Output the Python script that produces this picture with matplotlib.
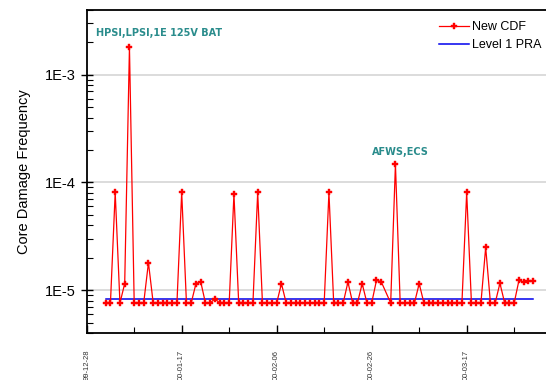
import numpy as np
import pandas as pd
import matplotlib
matplotlib.use("Agg")
import matplotlib.pyplot as plt
import matplotlib.dates as mdates
from matplotlib.ticker import LogLocator, FixedLocator, FixedFormatter, NullFormatter

plt.rcParams['font.family'] = ['Liberation Sans', 'DejaVu Sans']

# daily CDF estimates, 2000-01-01 .. 2000-03-31 (no entry for Feb 29)
cdf_dates = pd.date_range("2000-01-01", "2000-03-31").drop(pd.Timestamp("2000-02-29"))
new_cdf = [
    7.6e-6, 7.6e-6, 8.1e-5, 7.6e-6, 1.15e-5, 1.8e-3, 7.6e-6, 7.6e-6, 7.6e-6, 1.8e-5,   # Jan 1-10
    7.6e-6, 7.6e-6, 7.6e-6, 7.6e-6, 7.6e-6, 7.6e-6, 8.1e-5, 7.6e-6, 7.6e-6, 1.15e-5,  # Jan 11-20
    1.2e-5, 7.6e-6, 7.6e-6, 8.3e-6, 7.6e-6, 7.6e-6, 7.6e-6, 7.8e-5, 7.6e-6, 7.6e-6,   # Jan 21-30
    7.6e-6, 7.6e-6, 8.1e-5, 7.6e-6, 7.6e-6, 7.6e-6, 7.6e-6, 1.15e-5, 7.6e-6, 7.6e-6,  # Jan 31-Feb 9
    7.6e-6, 7.6e-6, 7.6e-6, 7.6e-6, 7.6e-6, 7.6e-6, 7.6e-6, 8.1e-5, 7.6e-6, 7.6e-6,   # Feb 10-19
    7.6e-6, 1.19e-5, 7.6e-6, 7.6e-6, 1.15e-5, 7.6e-6, 7.6e-6, 1.23e-5, 1.2e-5,        # Feb 20-28
    7.6e-6, 1.48e-4, 7.6e-6, 7.6e-6, 7.6e-6, 7.6e-6, 1.15e-5, 7.6e-6, 7.6e-6, 7.6e-6,  # Mar 1-10
    7.6e-6, 7.6e-6, 7.6e-6, 7.6e-6, 7.6e-6, 7.6e-6, 8.1e-5, 7.6e-6, 7.6e-6, 7.6e-6,   # Mar 11-20
    2.5e-5, 7.6e-6, 7.6e-6, 1.16e-5, 7.6e-6, 7.6e-6, 7.6e-6, 1.23e-5, 1.19e-5, 1.22e-5,  # Mar 21-30
    1.22e-5,                                                                            # Mar 31
]

pra_dates = pd.to_datetime(["2000-01-01", "2000-03-31"])
level1_pra = [8.3e-6, 8.3e-6]

events = [("HPSI,LPSI,1E 125V BAT", "1999-12-30", 2.45e-3),
          ("AFWS,ECS", "2000-02-26", 1.93e-4)]

y_ticks = [1e-5, 1e-4, 1e-3]
y_labels = ["1E-5", "1E-4", "1E-3"]

fig = plt.figure(figsize=(5.46, 3.80), dpi=100)
ax = fig.add_axes([86.7 / 546, 1 - 333 / 380, 1 - 86.7 / 546, 323 / 380])

for yv in y_ticks:
    ax.axhline(yv, color="#d9d9d9", lw=1.3, zorder=0)

ax.plot(cdf_dates, new_cdf, color="#ff0000", lw=0.9, marker="P", ms=4.8,
        mec="#ff0000", mfc="#ff0000", mew=0.3, label="New CDF", zorder=3)
ax.plot(pra_dates, level1_pra, color="#0000ee", lw=1.1, label="Level 1 PRA", zorder=2)

for text, d, yv in events:
    ax.text(pd.Timestamp(d), yv, text, color="#2a8c8c", fontsize=7, fontweight="bold",
            family=["DejaVu Sans"], ha="left", va="center")

ax.set_yscale("log")
ax.set_ylim(4e-6, 4e-3)
x0 = pd.Timestamp("1999-12-28")
ax.set_xlim(x0, x0 + pd.Timedelta(days=96.7))

ax.yaxis.set_major_locator(FixedLocator(y_ticks))
ax.yaxis.set_major_formatter(FixedFormatter(y_labels))
ax.yaxis.set_minor_locator(LogLocator(base=10, subs=np.arange(2, 10)))
ax.yaxis.set_minor_formatter(NullFormatter())
ax.tick_params(axis="y", which="major", direction="inout", length=8, width=1, labelsize=10.5, pad=4)
ax.tick_params(axis="y", which="minor", direction="in", length=4, width=0.8)

# date ticks every 20 days, minor ticks halfway between
ax.xaxis.set_major_locator(FixedLocator(
    mdates.date2num(pd.date_range(x0, periods=5, freq="20D"))))
ax.xaxis.set_minor_locator(FixedLocator(
    mdates.date2num(pd.date_range(x0 + pd.Timedelta(days=10), periods=5, freq="20D"))))
ax.xaxis.set_major_formatter(mdates.DateFormatter("%y-%m-%d"))
ax.tick_params(axis="x", which="major", direction="in", length=6, width=1,
               labelsize=5.5, labelrotation=90, pad=12, labelcolor="#333333")
ax.tick_params(axis="x", which="minor", direction="in", length=4, width=0.8)

ax.set_ylabel("Core Damage Frequency", fontsize=10.5, labelpad=10)

ax.spines["right"].set_visible(False)
for s in ("left", "bottom", "top"):
    ax.spines[s].set_linewidth(1.3)

ax.legend(loc="upper right", bbox_to_anchor=(541 / 546, 1 - 21 / 380), bbox_transform=fig.transFigure,
          frameon=False, fontsize=9, handlelength=2.4, handletextpad=0.2,
          labelspacing=0.5, numpoints=1, borderaxespad=0, borderpad=0)

fig.savefig("out.png", dpi=100)
